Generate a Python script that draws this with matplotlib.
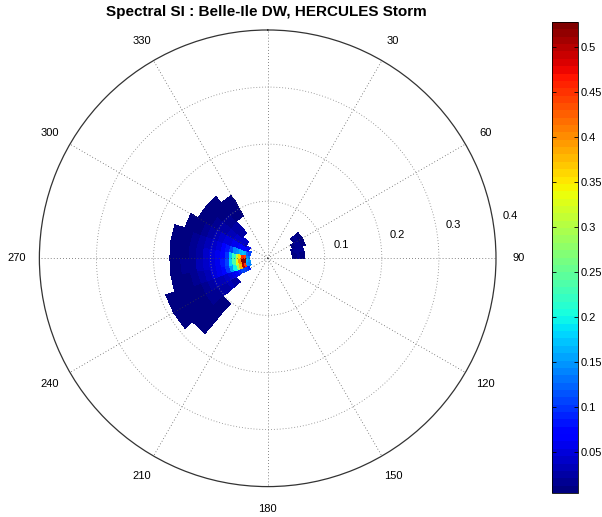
import numpy as np
import matplotlib.pyplot as plt
from matplotlib.colors import Normalize

plt.rcParams['font.family'] = ['Liberation Sans', 'DejaVu Sans']

# Frequency bin edges (Hz) -> radius
freq_edges = [0.032, 0.036, 0.040, 0.044, 0.048, 0.053, 0.058, 0.064, 0.070,
              0.077, 0.085, 0.094, 0.104, 0.115, 0.127, 0.140, 0.155, 0.172, 0.190]

# Western swell block: direction bin edges (deg, nautical) and energy per bin
west_dir_edges = [220, 230, 240, 250, 260, 270, 280, 290, 300, 310, 320, 330]
west_values = [
    [0, 0, 0, 0, 0, 0, 0, 0, 0, 0, 0, 0, 0.012, 0.010, 0.008, 0.007, 0.006, 0],
    [0, 0, 0, 0, 0, 0, 0, 0.025, 0.028, 0.030, 0.028, 0.022, 0.018, 0.014, 0.011, 0.008, 0.007, 0.006],
    [0, 0.080, 0.100, 0.110, 0.105, 0.090, 0.075, 0.060, 0.050, 0.042, 0.036, 0.030, 0.022, 0.016, 0.012, 0.009, 0.007, 0.006],
    [0.140, 0.150, 0.450, 0.500, 0.380, 0.280, 0.200, 0.150, 0.095, 0.070, 0.055, 0.045, 0.035, 0.025, 0.018, 0.012, 0.008, 0],
    [0.150, 0.160, 0.520, 0.528, 0.400, 0.330, 0.240, 0.180, 0.110, 0.080, 0.060, 0.050, 0.040, 0.030, 0.020, 0.013, 0.009, 0],
    [0.130, 0.140, 0.440, 0.460, 0.360, 0.300, 0.220, 0.170, 0.100, 0.075, 0.060, 0.048, 0.038, 0.028, 0.019, 0.012, 0.008, 0],
    [0.110, 0.120, 0.160, 0.170, 0.160, 0.150, 0.140, 0.110, 0.080, 0.065, 0.052, 0.042, 0.033, 0.024, 0.016, 0.010, 0.007, 0],
    [0, 0.060, 0.070, 0.075, 0.070, 0.065, 0.060, 0.055, 0.050, 0.045, 0.040, 0.032, 0.025, 0.018, 0.012, 0.008, 0, 0],
    [0, 0, 0, 0.035, 0.040, 0.040, 0.040, 0.038, 0.035, 0.032, 0.028, 0.022, 0.017, 0.012, 0.008, 0, 0, 0],
    [0, 0, 0, 0, 0, 0, 0.025, 0.025, 0.024, 0.022, 0.020, 0.016, 0.012, 0.009, 0.007, 0, 0, 0],
    [0, 0, 0, 0, 0, 0, 0, 0, 0, 0, 0.012, 0.011, 0.009, 0.007, 0, 0, 0, 0],
]

# Small eastern block
east_dir_edges = [50, 60, 70, 80, 90]
east_values = [
    [0, 0, 0, 0, 0, 0.012, 0.014, 0.012, 0, 0, 0, 0, 0, 0, 0, 0, 0, 0],
    [0, 0, 0, 0, 0.012, 0.015, 0.016, 0.012, 0, 0, 0, 0, 0, 0, 0, 0, 0, 0],
    [0, 0, 0, 0.010, 0.014, 0.016, 0.013, 0, 0, 0, 0, 0, 0, 0, 0, 0, 0, 0],
    [0, 0, 0, 0.010, 0.012, 0.013, 0.010, 0, 0, 0, 0, 0, 0, 0, 0, 0, 0, 0],
]

angle_ticks = [30, 60, 90, 120, 150, 180, 210, 240, 270, 300, 330]
radial_ticks = [0.1, 0.2, 0.3, 0.4]
cbar_ticks = [0.05, 0.1, 0.15, 0.2, 0.25, 0.3, 0.35, 0.4, 0.45, 0.5]
cbar_labels = ['0.05', '0.1', '0.15', '0.2', '0.25', '0.3', '0.35', '0.4', '0.45', '0.5']
cmin, cmax = 0.004, 0.528

fig = plt.figure(figsize=(6.02, 5.17), dpi=100)
ax = fig.add_axes([0.0654, 0.0588, 0.7585, 0.8832], projection='polar')
ax.set_theta_zero_location('N')
ax.set_theta_direction(-1)

cmap = plt.get_cmap('jet', 64)
norm = Normalize(cmin, cmax)


def draw_block(dir_edges, values):
    th = np.deg2rad(dir_edges)
    z = np.ma.masked_equal(np.array(values), 0)
    return ax.pcolormesh(th, freq_edges, z.T, cmap=cmap, norm=norm,
                         shading='flat', edgecolors='face', linewidth=0.2)


mesh = draw_block(west_dir_edges, west_values)
draw_block(east_dir_edges, east_values)

ax.set_rlim(0, 0.4)
ax.set_rticks(radial_ticks[:-1])
ax.set_yticklabels([])
ax.set_xticks(np.deg2rad(np.arange(0, 360, 30)))
ax.set_xticklabels([])
ax.set_axisbelow(False)
ax.xaxis.grid(True, color='0.25', linestyle=(0, (1, 3)), linewidth=0.55)
ax.yaxis.grid(True, color='0.5', linestyle=(0, (1, 2.5)), linewidth=0.6)
ax.spines['polar'].set_linewidth(0.9)
ax.spines['polar'].set_color('0.2')

for a in angle_ticks:
    ax.text(np.deg2rad(a), 0.44, str(a), ha='center', va='center', fontsize=8)
for r in radial_ticks:
    ax.text(np.deg2rad(80), r + 0.031, f'{r:g}', ha='center', va='center', fontsize=8)

fig.text(0.443, 0.976, 'Spectral SI : Belle-Ile DW, HERCULES Storm',
         ha='center', va='center', fontsize=11, fontweight='bold')

cax = fig.add_axes([551.7 / 602, 24 / 517, 26.6 / 602, 471 / 517])
cb = fig.colorbar(mesh, cax=cax, ticks=cbar_ticks)
cb.ax.set_yticklabels(cbar_labels)
cb.ax.tick_params(direction='in', left=True, right=True, length=3, width=0.6,
                  labelsize=8, pad=2)
cb.outline.set_linewidth(0.6)

fig.savefig('out.png', dpi=100)
